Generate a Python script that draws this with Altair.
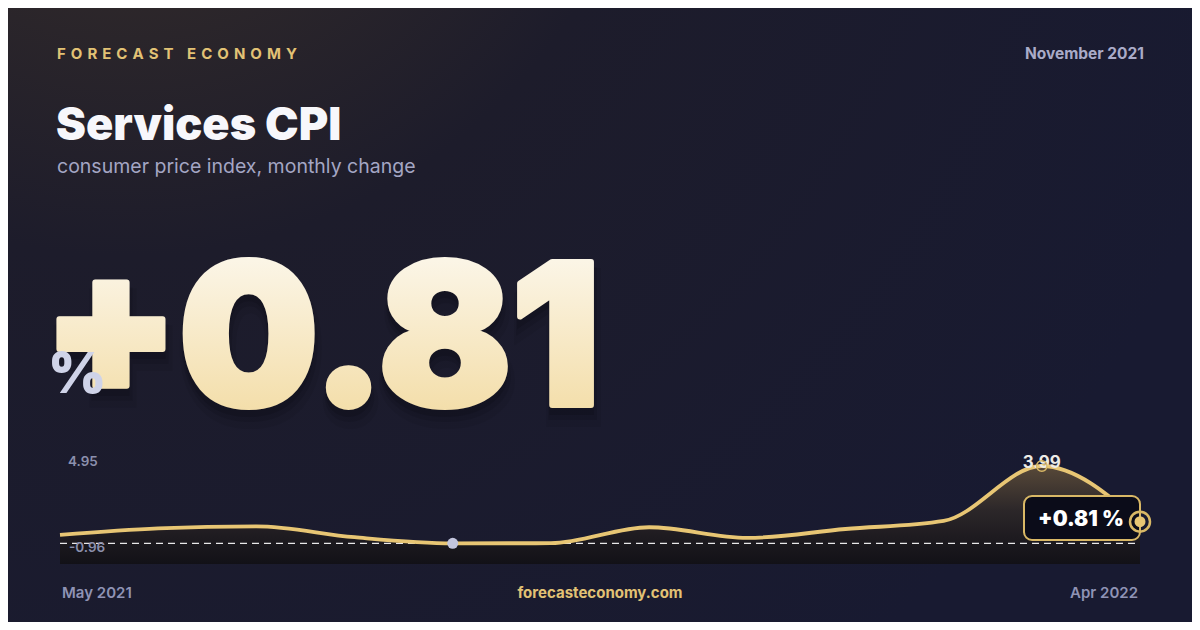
import altair as alt
import pandas as pd

# ---- data ----
months = ["May 2021", "Jun 2021", "Jul 2021", "Aug 2021", "Sep 2021", "Oct 2021",
          "Nov 2021", "Dec 2021", "Jan 2022", "Feb 2022", "Mar 2022", "Apr 2022"]
values = [0.05, 0.43, 0.54, -0.08, -0.43, -0.42, 0.49, -0.12, 0.39, 0.85, 3.99, 0.81]
range_labels = ["4.95", "-0.96"]
brand = "FORECAST ECONOMY"
period = "November 2021"
title = "Services CPI"
subtitle = "consumer price index, monthly change"
headline = "+0.81"
site = "forecasteconomy.com"

W, H = 1184, 614
GOLD = "#e8c674"
FONT = "Inter"
Y_LO, Y_HI = -1.61, 4.95

df = pd.DataFrame({"i": list(range(len(months))), "month": months, "v": values})
df["floor"] = Y_LO
imin = int(df["v"].idxmin())
imax = int(df["v"].idxmax())
last = len(values) - 1
df_min = df.iloc[[imin]]
df_max = df.iloc[[imax]]
df_last = df.iloc[[last]]
df_base = pd.DataFrame({"i": [0], "i2": [last], "v": [values[imin]]})

xs = alt.Scale(domain=[0, last], range=[52, 1132])
ys = alt.Scale(domain=[Y_LO, Y_HI], range=[556, 441.2])
X = alt.X("i:Q", scale=xs, axis=None)
Y = alt.Y("v:Q", scale=ys, axis=None)


def txt(text, x, y, size, color, weight=400, align="left", font=FONT, **kw):
    return alt.Chart(pd.DataFrame({"t": [text]})).mark_text(
        align=align, baseline="alphabetic", fontSize=size, font=font,
        fontWeight=weight, color=color, **kw
    ).encode(x=alt.value(x), y=alt.value(y), text="t:N")


one = pd.DataFrame({"a": [0]})

bg = alt.Chart(one).mark_rect(
    fill=alt.RadialGradient(
        gradient="radial", x1=0.1, y1=0.0, r1=0.0, x2=0.1, y2=0.0, r2=1.0,
        stops=[alt.GradientStop(color="#3d3229", offset=0.0),
               alt.GradientStop(color="#1d1c2b", offset=0.45),
               alt.GradientStop(color="#181a31", offset=1.0)]
    )
).encode(x=alt.value(0), x2=alt.value(W), y=alt.value(0), y2=alt.value(H))

spaced = "\u2004".join(brand.split(" ")[0]) + "\u2004 \u2004" + "\u2004".join(brand.split(" ")[1])

t_brand = txt(spaced, 49, 51, 15, "#e2c275", 700)
t_period = txt(period, 1136, 51, 15.5, "#a9abc8", 700, align="right")
t_title = txt(title, 48, 132, 45, "#f7f7fb", 900)
t_sub = txt(subtitle, 49, 164.5, 19.5, "#a4a6c4", 400)

big_fill = alt.LinearGradient(
    gradient="linear", x1=0, x2=0, y1=0, y2=1,
    stops=[alt.GradientStop(color="#fdfcf8", offset=0.0),
           alt.GradientStop(color="#f7e8c4", offset=0.55),
           alt.GradientStop(color="#f1d89a", offset=1.0)]
)
big_x, big_y, big_size = 35, 397, 196
shadows = [
    alt.Chart(pd.DataFrame({"t": [headline]})).mark_text(
        align="left", baseline="alphabetic", fontSize=big_size, font=FONT, fontWeight=900,
        color="#06060d", opacity=op, dx=ddx, dy=ddy, stroke="#06060d", strokeWidth=sw
    ).encode(x=alt.value(big_x), y=alt.value(big_y), text="t:N")
    for ddx, ddy, op, sw in [(2, 14, 0.08, 16), (1, 10, 0.12, 10), (0, 7, 0.16, 6)]
]
t_big = alt.Chart(pd.DataFrame({"t": [headline]})).mark_text(
    align="left", baseline="alphabetic", fontSize=big_size, font=FONT, fontWeight=900,
    fill=big_fill, stroke=big_fill, strokeWidth=6, strokeJoin="round"
).encode(x=alt.value(big_x), y=alt.value(big_y), text="t:N")
t_pct = txt("%", 40, 385, 56, "#cfd3e8", 900)

t_hi = txt(range_labels[0], 60, 458, 13.5, "#8c90ad", 600)
t_lo = txt(range_labels[1], 61, 544, 13.5, "#8c90ad", 600)
t_start = txt(months[0], 54, 590, 15, "#8f93b5", 600)
t_end = txt(months[-1], 1130, 590, 15, "#8f93b5", 600, align="right")
t_site = txt(site, 592, 590, 15, "#e2c275", 700, align="center")

base = alt.Chart(df)
area = base.mark_area(
    interpolate="monotone", opacity=1,
    fill=alt.LinearGradient(
        gradient="linear", x1=0, x2=0, y1=0, y2=1,
        stops=[alt.GradientStop(color="#584939", offset=0.0),
               alt.GradientStop(color="#2c2729", offset=0.45),
               alt.GradientStop(color="#1e1b20", offset=0.72),
               alt.GradientStop(color="#121117", offset=1.0)]
    )
).encode(x=X, y=Y, y2="floor:Q")
line = base.mark_line(interpolate="monotone", color=GOLD, strokeWidth=3.8).encode(x=X, y=Y)

rule = alt.Chart(df_base).mark_rule(color="#ffffff", strokeWidth=1.3, strokeDash=[7, 5], opacity=0.9).encode(
    x=X, x2="i2:Q", y=Y)

min_dot = alt.Chart(df_min).mark_point(filled=True, color="#c3c6de", size=120, opacity=1).encode(x=X, y=Y)
max_lbl = alt.Chart(df_max).mark_text(
    font=FONT, fontSize=17, fontWeight=700, color="#ecebe6", baseline="alphabetic", dy=2
).encode(x=X, y=Y, text=alt.Text("v:Q", format=".2f"))
max_dot = alt.Chart(df_max).mark_point(filled=False, color="#d9b866", size=110, strokeWidth=1.5, opacity=1).encode(x=X, y=Y)

box = alt.Chart(one).mark_rect(
    fill="#0b0c19", stroke="#d9b866", strokeWidth=2, cornerRadius=8
).encode(x=alt.value(1016), x2=alt.value(1132), y=alt.value(488), y2=alt.value(532))
box_txt = txt(headline + " %", 1073, 518, 21, "#ffffff", 900, align="center")

end_ring = alt.Chart(df_last).mark_point(filled=False, color="#d9b866", size=400, strokeWidth=2.5, opacity=1).encode(x=X, y=Y)
end_dot = alt.Chart(df_last).mark_point(filled=True, color="#e8c674", size=120, opacity=1).encode(x=X, y=Y)

chart = alt.layer(
    bg, t_brand, t_period, t_title, t_sub, *shadows, t_big, t_pct,
    area, rule, line, t_hi, t_lo, min_dot, max_lbl, max_dot,
    box, box_txt, end_ring, end_dot,
    t_start, t_end, t_site
).properties(
    width=W, height=H, padding=0, background="#161729",
    autosize=alt.AutoSizeParams(type="none")
).configure_view(stroke=None)

chart.save("out.html", embed_options={"renderer": "svg", "actions": False})
